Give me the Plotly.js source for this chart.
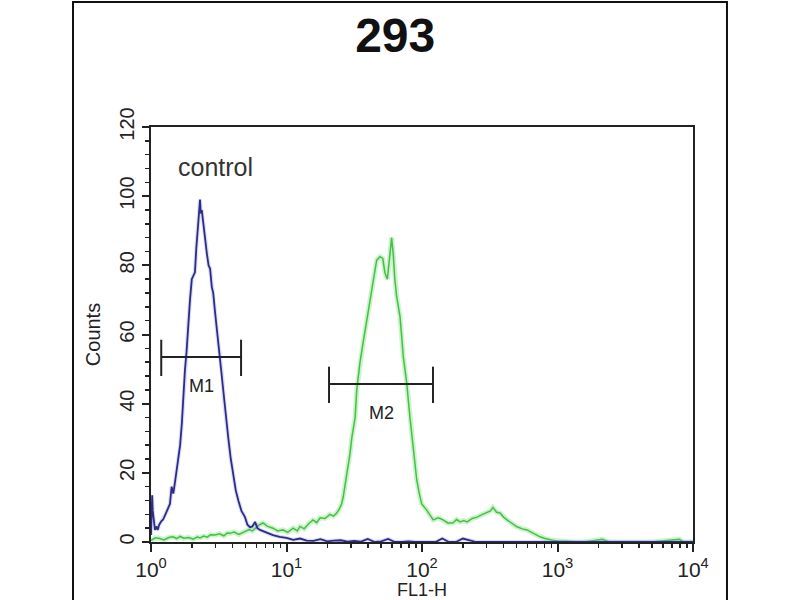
<!DOCTYPE html>
<html>
<head>
<meta charset="utf-8">
<script src="https://cdn.plot.ly/plotly-3.0.1.min.js"></script>
<style>html,body{margin:0;padding:0;background:#fff;}#chart{width:800px;height:600px;}</style>
</head>
<body>
<div id="chart"></div>
<script>
// Control (isotype) histogram: FL1-H values and counts
const controlX = [1.00,1.02,1.03,1.05,1.07,1.10,1.12,1.15,1.19,1.23,1.27,1.31,1.34,1.38,1.42,1.46,1.50,1.54,1.59,1.64,1.69,1.73,1.78,1.83,1.88,1.94,2.00,2.05,2.11,2.16,2.21,2.26,2.30,2.33,2.37,2.40,2.43,2.50,2.58,2.66,2.73,2.81,2.88,2.96,3.05,3.14,3.25,3.36,3.44,3.52,3.62,3.72,3.88,4.05,4.22,4.41,4.65,4.94,5.15,5.38,5.60,5.86,6.10,6.37,6.80,7.29,7.94,8.91,10.0,11.2,12.6,14.1,15.8,17.8,20.0,22.4,25.1,28.2,31.6,35.5,39.8,44.7,50.1,56.2,63.1,70.8,79.4,89.1,100,112,126,141,158,178,200,251,316,398,501,631,794,1000,2000,5000,10000];
const controlCounts = [2,13.5,9,5,3.5,4.5,3.5,5,6,6.5,7.8,9,10,11,16,14,17,20,24.7,28,34.4,42,49.7,55,63,70,76,77,78,85,92,95,99,95,96,94,92,88,83.6,80,79,73.7,72,67,62,58,52,47.7,42,39,34,30,24,18.8,15,12,9,7.2,5,4.3,4.5,5.8,4,3.5,3,2.6,2,1.5,1.2,0.6,1,0.4,0.3,0.8,0.2,0.4,0.5,0.1,0.3,0.1,0.9,0,0.2,0.9,0,0,0.2,0,0,0,0,1,0,0,1,0,0,0,0,0,0,0,0,0,0];

// Sample (293) histogram: FL1-H values and counts
const sampleX = [1.00,1.08,1.16,1.25,1.35,1.45,1.55,1.64,1.75,1.90,2.05,2.20,2.30,2.45,2.60,2.75,2.97,3.20,3.45,3.65,3.83,4.10,4.45,4.94,5.30,5.60,5.86,6.20,6.71,7.20,7.94,8.60,9.42,10.2,11.2,12.0,12.6,13.5,14.5,15.7,16.7,17.7,19.2,20.9,22.2,23.4,24.5,25.5,26.2,27.0,27.8,28.6,29.4,30.3,31.2,32.1,33.0,34.8,36.9,39.1,41.3,43.8,46.3,49.0,51.3,53.3,55.5,57.4,59.7,61.4,63.0,65.0,68.9,72.8,77.1,81.5,86.3,91.4,95.5,99.5,108,115,121,132,143,155,169,180,191,203,215,235,255,280,302,320,334,355,377,400,424,460,502,550,596,670,743,810,881,950,1000,1200,1585,2140,2400,5000,7943,8500,10000];
const sampleCounts = [0.5,1.2,1,0.6,1.3,1.5,1,1.6,1.1,1.3,0.8,1.5,1.2,1.7,1.4,2.1,2,2.4,1.8,2.6,2.5,2.9,2.2,3,3.6,3.2,4,4.8,5.5,4.6,4,3.2,3.5,2.8,4,3.2,4.5,3.8,5.2,6.4,5.6,7,6.8,8,7.5,8.3,9.5,11,13,16,19,22.8,25.5,30,33,36,44,51.7,58,64,71,75.8,81.5,82.5,82,77.8,76,82.5,88,83,76,71,65,53.5,46,36,26.6,18,14,11,9.3,7.5,6.4,7,6.4,5.5,5.5,6.5,5.8,6.2,5.8,6.8,7.2,8,8.7,9,10,8.6,8.4,7.2,6.4,5.4,4.4,3.8,3.5,2.4,1.5,1,0.6,0.4,0.3,0.1,0,0.8,0,0,0.8,0,0];

// Marker gates
const gateNames = ['M1','M2'];
const gateLo = [1.19, 20.6];
const gateHi = [4.62, 120.5];
const gateLevel = [53.5, 45.7];

const xTickVals = [1,10,100,1000,10000];
const xTickText = ['10<sup>0</sup>','10<sup>1</sup>','10<sup>2</sup>','10<sup>3</sup>','10<sup>4</sup>'];

const FONT = 'Liberation Sans, Arial, sans-serif';

// build gate line geometry (bar + end caps)
const gx = [], gy = [];
for (let i = 0; i < gateNames.length; i++) {
  gx.push(gateLo[i], gateLo[i], null, gateLo[i], gateHi[i], null, gateHi[i], gateHi[i], null);
  gy.push(gateLevel[i]-5.5, gateLevel[i]+5, null, gateLevel[i], gateLevel[i], null, gateLevel[i]-5.5, gateLevel[i]+5, null);
}

const traces = [
  {x: sampleX, y: sampleCounts, mode: 'lines', line: {color: 'rgba(150,235,150,0.5)', width: 5}, hoverinfo: 'skip'},
  {x: sampleX, y: sampleCounts, mode: 'lines', line: {color: '#48bd48', width: 1.5}},
  {x: controlX, y: controlCounts, mode: 'lines', line: {color: 'rgba(140,140,230,0.3)', width: 4}, hoverinfo: 'skip'},
  {x: controlX, y: controlCounts, mode: 'lines', line: {color: '#2c2c86', width: 1.8}},
  {x: gx, y: gy, mode: 'lines', xaxis: 'x2', line: {color: '#222', width: 2}, connectgaps: false}
];

const annotations = [
  {x: Math.log10(2.97), y: 108.4, text: 'control', showarrow: false, font: {family: FONT, size: 25, color: '#333'}}
];
for (let i = 0; i < gateNames.length; i++) {
  annotations.push({x: Math.log10(Math.sqrt(gateLo[i]*gateHi[i])), y: gateLevel[i], yshift: -29,
    text: gateNames[i], showarrow: false, font: {family: FONT, size: 18, color: '#222'}});
}

const layout = {
  width: 800, height: 600,
  margin: {l: 151, r: 107, t: 127, b: 58, pad: 0},
  paper_bgcolor: '#fff', plot_bgcolor: '#fff',
  showlegend: false,
  title: {text: '<b>293</b>', font: {family: FONT, size: 48, color: '#111'},
          x: 0.494, xref: 'container', xanchor: 'center', y: 0.942, yref: 'container', yanchor: 'middle'},
  xaxis: {type: 'log', range: [0, 4], tickmode: 'array', tickvals: xTickVals, ticktext: xTickText,
          ticks: 'outside', ticklen: 8, tickwidth: 2, tickcolor: '#222',
          showline: true, linewidth: 2, linecolor: '#222', mirror: true,
          showgrid: false, zeroline: false,
          tickfont: {family: FONT, size: 21, color: '#222'},
          title: {text: 'FL1-H', font: {family: FONT, size: 18, color: '#222'}, standoff: 1}},
  xaxis2: {type: 'log', range: [0, 4], overlaying: 'x', anchor: 'y', side: 'bottom', dtick: 'D1',
           ticks: 'outside', ticklen: 5, tickwidth: 1.5, tickcolor: '#222',
           showticklabels: false, showline: false, showgrid: false, zeroline: false},
  yaxis: {range: [0, 120], dtick: 20, tickangle: -90,
          ticks: 'outside', ticklen: 7, tickwidth: 2, tickcolor: '#222',
          minor: {dtick: 4, ticks: 'outside', ticklen: 4, tickwidth: 1.5, tickcolor: '#222', showgrid: false},
          showline: true, linewidth: 2, linecolor: '#222', mirror: true,
          showgrid: false, zeroline: false,
          tickfont: {family: FONT, size: 20, color: '#222'},
          title: {text: 'Counts', font: {family: FONT, size: 20, color: '#222'}}},
  annotations: annotations,
  shapes: [
    {type: 'rect', xref: 'paper', yref: 'paper', x0: -0.1439, x1: 1.0627, y0: -0.16, y1: 1.3012,
     line: {color: '#111', width: 2}, fillcolor: 'rgba(0,0,0,0)'}
  ]
};

Plotly.newPlot('chart', traces, layout, {staticPlot: true, displayModeBar: false});
</script>
</body>
</html>
